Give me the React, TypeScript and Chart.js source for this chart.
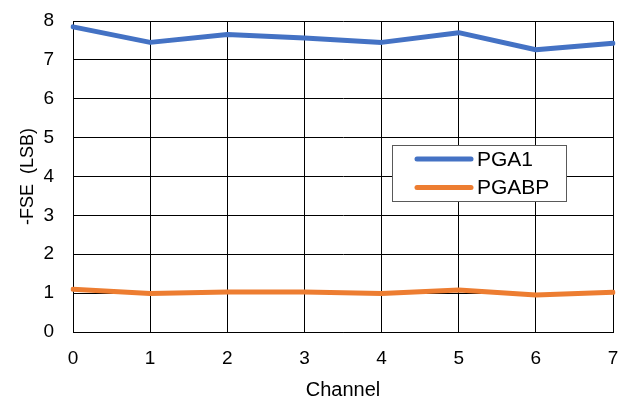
import React, { useEffect, useRef } from 'react';
import { Chart, registerables } from 'chart.js';

Chart.register(...registerables);

const channels = ['0', '1', '2', '3', '4', '5', '6', '7'];
const pga1 = [7.85, 7.45, 7.65, 7.56, 7.45, 7.70, 7.26, 7.43];
const pgabp = [1.10, 0.99, 1.03, 1.03, 0.99, 1.08, 0.95, 1.02];
const seriesNames = ['PGA1', 'PGABP'];
const seriesColors = ['#4472C4', '#ED7D31'];
const yMin = 0;
const yMax = 8;
const yStep = 1;
const xTitle = 'Channel';
const yTitle = '-FSE  (LSB)';

const FONT = '"Liberation Sans", Arial, sans-serif';

const legendPlugin = {
  id: 'boxLegend',
  afterDraw(chart: any) {
    const ctx = chart.ctx;
    ctx.save();
    const x = 392.5, y = 145.5, w = 174, h = 56;
    ctx.fillStyle = '#ffffff';
    ctx.fillRect(x, y, w, h);
    ctx.strokeStyle = '#595959';
    ctx.lineWidth = 1;
    ctx.strokeRect(x, y, w, h);
    chart.data.datasets.forEach((ds: any, i: number) => {
      const cy = 159 + i * 28.5;
      ctx.strokeStyle = ds.borderColor;
      ctx.lineWidth = 5;
      ctx.lineCap = 'round';
      ctx.beginPath();
      ctx.moveTo(417, cy);
      ctx.lineTo(471, cy);
      ctx.stroke();
      ctx.fillStyle = '#000000';
      ctx.font = `21px ${FONT}`;
      ctx.textBaseline = 'middle';
      ctx.textAlign = 'left';
      ctx.fillText(ds.label, 477, cy + 1);
    });
    ctx.restore();
  },
};

const zeroPad = (s: any) => {
  s.paddingTop = 0;
  s.paddingBottom = 0;
  s.paddingLeft = 0;
  s.paddingRight = 0;
};

export default function App() {
  const ref = useRef<HTMLCanvasElement>(null);
  useEffect(() => {
    document.body.style.margin = '0';
    const chart = new Chart(ref.current as HTMLCanvasElement, {
      type: 'line',
      data: {
        labels: channels,
        datasets: [
          {
            label: seriesNames[0],
            data: pga1,
            borderColor: seriesColors[0],
            backgroundColor: seriesColors[0],
            borderWidth: 5,
            pointRadius: 0,
            tension: 0,
            borderJoinStyle: 'round',
            borderCapStyle: 'round',
          },
          {
            label: seriesNames[1],
            data: pgabp,
            borderColor: seriesColors[1],
            backgroundColor: seriesColors[1],
            borderWidth: 5,
            pointRadius: 0,
            tension: 0,
            borderJoinStyle: 'round',
            borderCapStyle: 'round',
          },
        ],
      },
      options: {
        responsive: false,
        animation: false,
        layout: { padding: { top: 21, right: 17, bottom: 0, left: 0 } },
        plugins: {
          legend: { display: false },
          tooltip: { enabled: false },
        },
        scales: {
          x: {
            offset: false,
            grid: { color: '#000000', lineWidth: 1, drawTicks: false },
            border: { color: '#000000', width: 1 },
            ticks: { color: '#000000', font: { family: FONT, size: 19 }, padding: 15, maxRotation: 0 },
            title: { display: true, text: xTitle, color: '#000000', font: { family: FONT, size: 20 }, padding: { top: 0, bottom: 3 } },
            afterFit: (s: any) => { s.height = 73; zeroPad(s); },
          },
          y: {
            min: yMin,
            max: yMax,
            grid: { color: '#000000', lineWidth: 1, drawTicks: false },
            border: { color: '#000000', width: 1 },
            ticks: { stepSize: yStep, color: '#000000', font: { family: FONT, size: 19 }, padding: 19 },
            title: { display: true, text: yTitle, color: '#000000', font: { family: FONT, size: 18 }, padding: { top: 17, bottom: 0 } },
            afterFit: (s: any) => { s.width = 73; zeroPad(s); },
          },
        },
      },
      plugins: [legendPlugin],
    } as any);
    return () => chart.destroy();
  }, []);
  return (
    <div style={{ width: 630, height: 405 }}>
      <canvas ref={ref} width={630} height={405} />
    </div>
  );
}
